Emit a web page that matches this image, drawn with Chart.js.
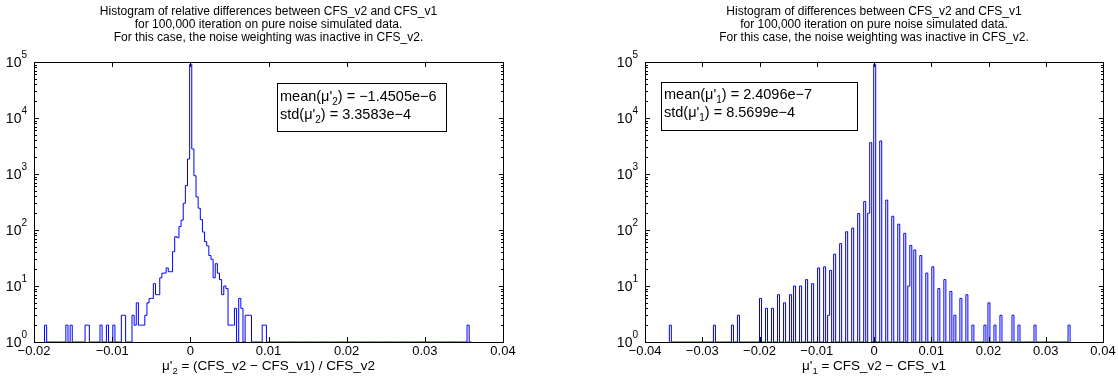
<!DOCTYPE html>
<html><head><meta charset="utf-8">
<script src="https://cdn.jsdelivr.net/npm/chart.js@4.4.1/dist/chart.umd.min.js"></script>
<style>
html,body{margin:0;padding:0;background:#fff;}
#wrap{position:relative;width:1118px;height:378px;overflow:hidden;background:#fff}
.pane{position:absolute;top:0;width:559px;height:378px}
</style></head><body>
<div id="wrap">
<div class="pane" style="left:0"><canvas id="chartLeft" width="559" height="378"></canvas></div>
<div class="pane" style="left:559px"><canvas id="chartRight" width="559" height="378"></canvas></div>
</div>
<script>
const FONT_FAMILY = '"Liberation Sans", Arial, Helvetica, sans-serif';

// ---------- texts ----------
const leftTitle = [
  'Histogram of relative differences between CFS_v2 and CFS_v1',
  'for 100,000 iteration on pure noise simulated data.',
  'For this case, the noise weighting was inactive in CFS_v2.'
];
const rightTitle = [
  'Histogram of differences between CFS_v2 and CFS_v1',
  'for 100,000 iteration on pure noise simulated data.',
  'For this case, the noise weighting was inactive in CFS_v2.'
];
const leftXLabel = {pre: "\u03bc'", sub: '2', post: ' = (CFS_v2 \u2212 CFS_v1) / CFS_v2'};
const rightXLabel = {pre: "\u03bc'", sub: '1', post: ' = CFS_v2 \u2212 CFS_v1'};
const leftStats = [
  {name: 'mean', sub: '2', value: '\u22121.4505e\u22126'},
  {name: 'std', sub: '2', value: '3.3583e\u22124'}
];
const rightStats = [
  {name: 'mean', sub: '1', value: '2.4096e\u22127'},
  {name: 'std', sub: '1', value: '8.5699e\u22124'}
];

// ---------- ticks ----------
const leftXTicks = [-0.02, -0.01, 0, 0.01, 0.02, 0.03, 0.04];
const rightXTicks = [-0.04, -0.03, -0.02, -0.01, 0, 0.01, 0.02, 0.03, 0.04];
const yDecades = [0, 1, 2, 3, 4, 5];
const yMinorMultipliers = [2, 3, 4, 5, 6, 7, 8, 9];

// ---------- histogram data (bin centres and counts, empty bins omitted) ----------
const leftBinStart = -0.018654;
const leftBinWidth = 0.000273;
const leftBinCount = 200;
const leftCenters = [
  -0.01852, -0.01579, -0.01524, -0.01333, -0.01306, -0.01142, -0.01060, -0.00978,
  -0.00869, -0.00842, -0.00732, -0.00705, -0.00678, -0.00651, -0.00623, -0.00596,
  -0.00569, -0.00541, -0.00514, -0.00487, -0.00459, -0.00432, -0.00405, -0.00378,
  -0.00350, -0.00323, -0.00296, -0.00268, -0.00241, -0.00214, -0.00186, -0.00159,
  -0.00132, -0.00105, -0.00077, -0.00050, -0.00023, 0.00005, 0.00032, 0.00059,
  0.00087, 0.00114, 0.00141, 0.00168, 0.00196, 0.00223, 0.00250, 0.00278,
  0.00305, 0.00332, 0.00360, 0.00387, 0.00414, 0.00441, 0.00469, 0.00496,
  0.00523, 0.00551, 0.00578, 0.00633, 0.00660, 0.00714, 0.00742, 0.00769,
  0.00933, 0.00960, 0.03554
];
const leftCounts = [
  2, 2, 2, 2, 2, 2, 2, 2,
  3, 3, 3, 2, 5, 2, 2, 2,
  3, 5, 6, 6, 11, 7, 7, 14,
  17, 17, 21, 18, 18, 41, 76, 73,
  115, 150, 300, 620, 1850, 91000, 2800, 930,
  390, 245, 153, 92, 62, 52, 35, 30,
  14, 25, 17, 13, 7, 10, 9, 2,
  2, 2, 4, 6, 4, 3, 3, 3,
  2, 2, 2
];

const rightBinStart = -0.03575;
const rightBinWidth = 0.00035;
const rightBinCount = 200;
const rightCenters = [
  -0.03558, -0.02789, -0.02470, -0.02375, -0.01984, -0.01879, -0.01780, -0.01670,
  -0.01565, -0.01465, -0.01390, -0.01285, -0.01180, -0.01075, -0.00976, -0.00870,
  -0.00795, -0.00760, -0.00685, -0.00586, -0.00481, -0.00381, -0.00271, -0.00166,
  -0.00108, -0.00061, 0.00000, 0.00114, 0.00215, 0.00320, 0.00428, 0.00533,
  0.00598, 0.00633, 0.00705, 0.00810, 0.00918, 0.01017, 0.01128, 0.01233,
  0.01337, 0.01407, 0.01512, 0.01611, 0.01728, 0.01932, 0.02002, 0.02107,
  0.02217, 0.02421, 0.02521, 0.02806, 0.03397
];
const rightCounts = [
  2, 2, 2, 3, 6, 4, 4, 7,
  5, 7, 10, 10, 13, 11, 21, 22,
  3, 19, 37, 57, 93, 108, 197, 323,
  200, 3630, 91000, 3890, 342, 176, 127, 87,
  10, 53, 44, 35, 17, 22, 9, 13,
  8, 3, 6, 7, 2, 2, 5, 2,
  3, 3, 2, 2, 2
];

// Build the outline of a histogram (MATLAB-like) as a stepped line.
// Empty bins sit on the log-axis floor (value 1).
function histogramOutline(start, width, nBins, centers, counts) {
  const bins = new Array(nBins).fill(1);
  centers.forEach((c, i) => {
    const k = Math.floor((c - start) / width);
    if (k >= 0 && k < nBins) bins[k] = Math.max(1, counts[i]);
  });
  const pts = [{x: start, y: 1}];
  for (let k = 0; k < nBins; k++) pts.push({x: start + k * width, y: bins[k]});
  pts.push({x: start + nBins * width, y: 1});
  return pts;
}

function fmtX(v) {
  if (Math.abs(v) < 1e-12) return '0';
  return (v < 0 ? '\u2212' : '') + Math.abs(v).toFixed(2);
}

function drawRich(ctx, x, y, segs, align, size, subSize, subDrop) {
  const main = size + 'px ' + FONT_FAMILY;
  const small = subSize + 'px ' + FONT_FAMILY;
  let total = 0;
  segs.forEach(s => { ctx.font = s.sub ? small : main; total += ctx.measureText(s.t).width; });
  let cx = align === 'center' ? x - total / 2 : x;
  ctx.textAlign = 'left';
  ctx.textBaseline = 'alphabetic';
  segs.forEach(s => {
    ctx.font = s.sub ? small : main;
    ctx.fillText(s.t, cx, s.sub ? y + subDrop : y);
    cx += ctx.measureText(s.t).width;
  });
}

const matlabFrame = {
  id: 'matlabFrame',
  beforeDatasetsDraw(chart) {
    const a = chart.chartArea, ctx = chart.ctx;
    ctx.save();
    ctx.strokeStyle = '#000';
    ctx.lineWidth = 1;
    ctx.strokeRect(a.left + 0.5, a.top + 0.5, a.right - a.left, a.bottom - a.top);
    ctx.restore();
  },
  afterDraw(chart, args, opts) {
    const a = chart.chartArea, ctx = chart.ctx;
    const xs = chart.scales.x, ys = chart.scales.y;
    ctx.save();
    ctx.strokeStyle = '#000';
    ctx.lineWidth = 1;
    ctx.beginPath();
    ctx.moveTo(a.left + 0.5, a.bottom + 0.5); ctx.lineTo(a.left + 0.5, a.top + 0.5);
    ctx.lineTo(a.right + 0.5, a.top + 0.5); ctx.lineTo(a.right + 0.5, a.bottom + 0.5);
    ctx.stroke();
    // x ticks (inward, top and bottom)
    ctx.beginPath();
    xs.ticks.forEach(t => {
      const px = Math.round(xs.getPixelForValue(t.value)) + 0.5;
      ctx.moveTo(px, a.bottom); ctx.lineTo(px, a.bottom - 5);
      ctx.moveTo(px, a.top); ctx.lineTo(px, a.top + 5);
    });
    // y ticks (inward, left and right)
    ys.ticks.forEach(t => {
      const py = Math.round(ys.getPixelForValue(t.value)) + 0.5;
      const len = t.major ? 5 : 3;
      ctx.moveTo(a.left, py); ctx.lineTo(a.left + len, py);
      ctx.moveTo(a.right + 1, py); ctx.lineTo(a.right + 1 - len, py);
    });
    ctx.stroke();
    // y tick labels 10^n
    ctx.fillStyle = '#000';
    ys.ticks.forEach(t => {
      if (!t.major) return;
      const e = Math.round(Math.log10(t.value));
      const py = ys.getPixelForValue(t.value);
      ctx.font = '10px ' + FONT_FAMILY;
      const sw = ctx.measureText(String(e)).width;
      const xr = a.left - 7;
      ctx.textAlign = 'right';
      ctx.textBaseline = 'alphabetic';
      ctx.font = '14px ' + FONT_FAMILY;
      ctx.fillText('10', xr - sw, py + 5);
      ctx.font = '10px ' + FONT_FAMILY;
      ctx.fillText(String(e), xr, py - 4);
    });
    // title
    ctx.fillStyle = '#000';
    ctx.font = opts.titleSize + 'px ' + FONT_FAMILY;
    ctx.textAlign = 'center';
    ctx.textBaseline = 'alphabetic';
    const cxm = (a.left + a.right) / 2;
    opts.title.forEach((line, i) => ctx.fillText(line, cxm, opts.titleBaselines[i]));
    // x axis label
    drawRich(ctx, cxm, opts.xLabelBaseline,
      [{t: opts.xLabel.pre}, {t: opts.xLabel.sub, sub: true}, {t: opts.xLabel.post}],
      'center', 13.5, 9.5, 4);
    // statistics box
    const b = opts.box;
    ctx.fillStyle = '#fff';
    ctx.fillRect(b.x, b.y, b.w, b.h);
    ctx.strokeStyle = '#000';
    ctx.strokeRect(b.x + 0.5, b.y + 0.5, b.w, b.h);
    ctx.fillStyle = '#000';
    opts.stats.forEach((s, i) => {
      drawRich(ctx, b.textX, b.baselines[i],
        [{t: s.name + "(\u03bc'"}, {t: s.sub, sub: true}, {t: ') = ' + s.value}],
        'left', 14.5, 10, 4);
    });
    ctx.restore();
  }
};

function makeChart(id, cfg) {
  return new Chart(document.getElementById(id), {
    type: 'line',
    data: {
      datasets: [{
        data: histogramOutline(cfg.binStart, cfg.binWidth, cfg.binCount, cfg.centers, cfg.counts),
        borderColor: '#0000ff',
        borderWidth: 1,
        pointRadius: 0,
        fill: false,
        tension: 0,
        stepped: true
      }]
    },
    options: {
      responsive: false,
      animation: false,
      events: [],
      layout: {padding: {top: 62, right: cfg.padRight, bottom: 0, left: 0}},
      plugins: {
        legend: {display: false},
        tooltip: {enabled: false},
        matlabFrame: {
          title: cfg.title, titleSize: 12, titleBaselines: [14.5, 27.5, 40.5],
          xLabel: cfg.xLabel, xLabelBaseline: 370,
          stats: cfg.stats, box: cfg.box
        }
      },
      scales: {
        x: {
          type: 'linear',
          min: cfg.xTicks[0], max: cfg.xTicks[cfg.xTicks.length - 1],
          afterBuildTicks: s => { s.ticks = cfg.xTicks.map(v => ({value: v})); },
          afterFit: s => { s.height = 36; },
          grid: {display: false, drawTicks: false},
          border: {display: false},
          ticks: {
            autoSkip: false, maxRotation: 0, padding: 2, color: '#000',
            font: {family: FONT_FAMILY, size: 13},
            callback: v => fmtX(v)
          }
        },
        y: {
          type: 'logarithmic',
          min: 1, max: 100000,
          afterBuildTicks: s => {
            const t = [];
            yDecades.forEach(e => {
              t.push({value: Math.pow(10, e), major: true});
              if (e < yDecades[yDecades.length - 1]) {
                yMinorMultipliers.forEach(m => t.push({value: m * Math.pow(10, e), major: false}));
              }
            });
            s.ticks = t;
          },
          afterFit: s => { s.width = cfg.yWidth; },
          grid: {display: false, drawTicks: false},
          border: {display: false},
          ticks: {display: false}
        }
      }
    },
    plugins: [matlabFrame]
  });
}

makeChart('chartLeft', {
  binStart: leftBinStart, binWidth: leftBinWidth, binCount: leftBinCount,
  centers: leftCenters, counts: leftCounts,
  xTicks: leftXTicks, yWidth: 34, padRight: 56,
  title: leftTitle, xLabel: leftXLabel, stats: leftStats,
  box: {x: 277, y: 83, w: 169, h: 48, textX: 280, baselines: [100.5, 118.5]}
});
makeChart('chartRight', {
  binStart: rightBinStart, binWidth: rightBinWidth, binCount: rightBinCount,
  centers: rightCenters, counts: rightCounts,
  xTicks: rightXTicks, yWidth: 86, padRight: 15,
  title: rightTitle, xLabel: rightXLabel, stats: rightStats,
  box: {x: 102, y: 82, w: 196, h: 48, textX: 105, baselines: [98.5, 117]}
});
</script>
</body></html>
